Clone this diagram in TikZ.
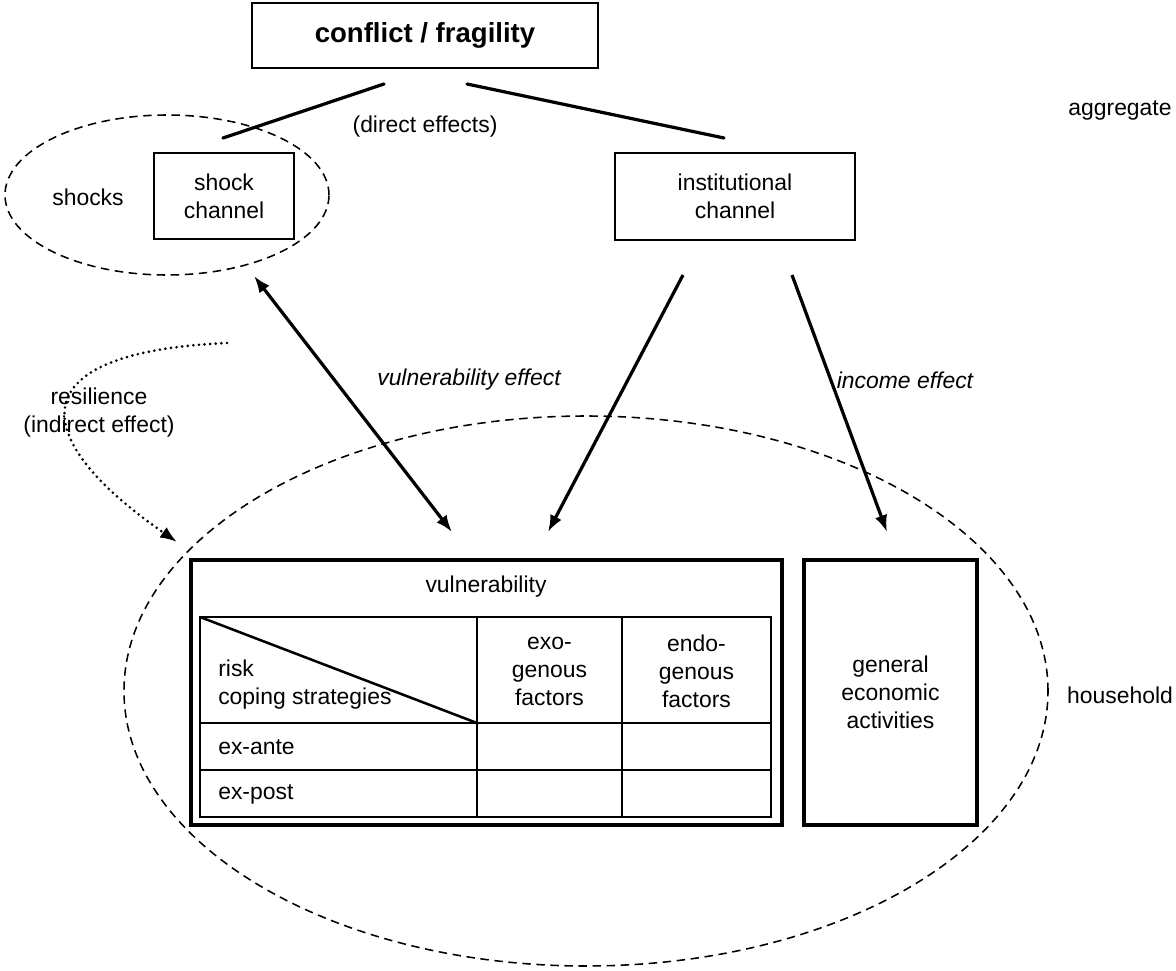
\documentclass[tikz,border=0pt]{standalone}
\usepackage{fontspec}
\setmainfont{Liberation Sans}
\usetikzlibrary{arrows.meta}

\begin{document}
\begin{tikzpicture}[
    every node/.style={font=\fontsize{16.3}{19.9}\selectfont, inner sep=0pt},
    box/.style={draw, line width=1.4pt, align=center},
    heavybox/.style={draw, line width=2.5pt, align=center},
    link/.style={line width=2.3pt, line cap=round},
    effect/.style={line width=2.3pt, -{Latex[length=12pt, width=9pt]}},
    twoway/.style={line width=2.3pt, {Latex[length=12pt, width=9pt]}-{Latex[length=12pt, width=9pt]}},
    ring/.style={line width=1.1pt, dash pattern=on 6pt off 4pt},
    dotlink/.style={line width=2.1pt, line cap=round, dash pattern=on 0pt off 4pt, -{Latex[length=12pt, width=9pt]}},
    cellline/.style={line width=1.8pt}
]

% Page frame
\useasboundingbox (0,0) rectangle (29.4,-24.275);

% Household ring (behind everything)
\draw[ring] (14.65,-17.275) ellipse (11.55cm and 6.875cm);

% Shocks ring
\draw[ring] (4.175,-4.875) ellipse (4.05cm and 2.0cm);

% Top level
\node[box, line width=1.6pt, minimum width=8.65cm, minimum height=1.625cm,
      font=\fontsize{19.6}{23}\selectfont\bfseries] (conflict) at (10.625,-0.8875) {conflict / fragility};
\node (aggregate) at (28.0,-2.75) {aggregate};
\node (direct) at (10.625,-3.175) {(direct effects)};

% Channels
\node (shocks) at (2.2,-4.925) {shocks};
\node[box, minimum width=3.5cm, minimum height=2.15cm] (shockch) at (5.6,-4.9) {shock\\channel};
\node[box, minimum width=6.0cm, minimum height=2.175cm] (instch) at (18.375,-4.9125) {institutional\\channel};

\coordinate (c1) at (9.6,-2.1);
\coordinate (c2) at (5.575,-3.45);
\coordinate (c3) at (11.675,-2.1);
\coordinate (c4) at (18.1,-3.45);
\draw[link] (c1) -- (c2);
\draw[link] (c3) -- (c4);

% Effects
\coordinate (vtop) at (6.35,-6.9);
\coordinate (vbot) at (11.3,-13.3);
\coordinate (etop) at (17.075,-6.875);
\coordinate (ebot) at (13.7,-13.3);
\coordinate (itop) at (19.8,-6.875);
\coordinate (ibot) at (22.175,-13.3);
\draw[twoway] (vtop) -- (vbot);
\draw[effect] (etop) -- (ebot);
\draw[effect] (itop) -- (ibot);
\node[font=\fontsize{16.3}{19.9}\selectfont\itshape] (vuleff) at (11.725,-9.5) {vulnerability effect};
\node[font=\fontsize{16.3}{19.9}\selectfont\itshape] (inceff) at (22.625,-9.5) {income effect};

% Resilience
\node[align=center] (resil) at (2.475,-10.325) {resilience\\(indirect effect)};
\coordinate (rtop) at (5.675,-8.575);
\coordinate (rbot) at (4.425,-13.55);
\draw[dotlink] (rtop) .. controls (0.5,-8.8) and (0.6,-10.9) .. (rbot);

% Household level
\node (household) at (28.0,-17.375) {household};
\node[heavybox, minimum width=14.775cm, minimum height=6.625cm] (vulbox) at (12.1625,-17.3125) {};
\node (vultitle) at (12.15,-14.675) {vulnerability};
\node[heavybox, minimum width=4.325cm, minimum height=6.625cm] (general) at (22.2625,-17.3125) {general\\economic\\activities};

% Vulnerability table
\draw[cellline] (5.0,-15.425) rectangle (19.275,-20.425);
\draw[cellline] (11.925,-15.425) -- (11.925,-20.425);
\draw[cellline] (15.55,-15.425) -- (15.55,-20.425);
\draw[cellline] (5.0,-18.075) -- (19.275,-18.075);
\draw[cellline] (5.0,-19.25) -- (19.275,-19.25);
\draw[cellline] (5.0,-15.425) -- (11.925,-18.075);

\node[anchor=west, align=left] (riskcope) at (5.45,-17.125) {risk\\coping strategies};
\node[align=center] (exo) at (13.7375,-16.775) {exo-\\genous\\factors};
\node[align=center] (endo) at (17.4125,-16.775) {endo-\\genous\\factors};
\node[anchor=west] (exante) at (5.45,-18.675) {ex-ante};
\node[anchor=west] (expost) at (5.45,-19.85) {ex-post};

\end{tikzpicture}
\end{document}
